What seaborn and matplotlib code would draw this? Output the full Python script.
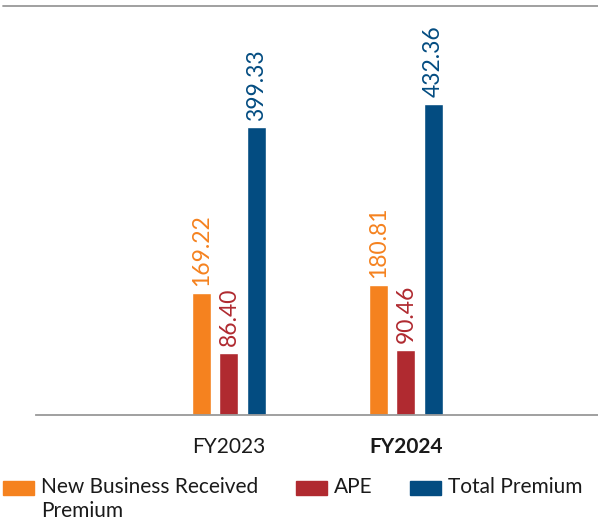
import pandas as pd
import seaborn as sns
import matplotlib.pyplot as plt
from matplotlib.lines import Line2D

# values
years = ['FY2023', 'FY2024']
series = ['New Business Received\nPremium', 'APE', 'Total Premium']
new_business = [169.22, 180.81]
ape = [86.40, 90.46]
total_premium = [399.33, 432.36]

colors = ['#F5821F', '#B02A30', '#034C81']

df = pd.DataFrame({
    'year': years * 3,
    'series': [series[0]] * 2 + [series[1]] * 2 + [series[2]] * 2,
    'value': new_business + ape + total_premium,
})

sns.set_theme(style='white')
plt.rcParams['font.family'] = ['Lato', 'DejaVu Sans']

W, H = 598, 521
fig = plt.figure(figsize=(W / 100, H / 100), dpi=100)
ax = fig.add_axes([36 / W, 106 / H, 562 / W, 409 / H])

sns.barplot(data=df, x='year', y='value', hue='series', hue_order=series,
            palette=colors, saturation=1, width=0.466, gap=0.31, ax=ax, legend=False)

for cont, col in zip(ax.containers, colors):
    ax.bar_label(cont, fmt='%.2f', rotation=90, padding=5, color=col, fontsize=16.5)

ax.set_xlim(-1.09, 2.085)
ax.set_ylim(0, 568)
ax.set_xlabel('')
ax.set_ylabel('')
ax.set_yticks([])
ax.tick_params(axis='x', length=0, pad=16, labelsize=15, colors='#1a1a1a')
ax.get_xticklabels()[1].set_fontweight('bold')

for s in ['left', 'right', 'top']:
    ax.spines[s].set_visible(False)
ax.spines['bottom'].set_color('#999999')
ax.spines['bottom'].set_linewidth(1.3)

# top rule across the figure
fig.add_artist(Line2D([3 / W, 1.0], [515 / H, 515 / H], color='#999999', lw=1.3))

# legend row below the axis, handles aligned with the first text line
leg_x = [3, 296, 410]
for x0, lab, col in zip(leg_x, series, colors):
    fig.add_artist(plt.Rectangle((x0 / W, (H - 495) / H), 31 / W, 14 / H,
                                 color=col, transform=fig.transFigure))
    fig.text((x0 + 38) / W, (H - 477) / H, lab, fontsize=15, color='#1a1a1a',
             va='top', ha='left', linespacing=1.27)

fig.savefig('out.png', dpi=100)
